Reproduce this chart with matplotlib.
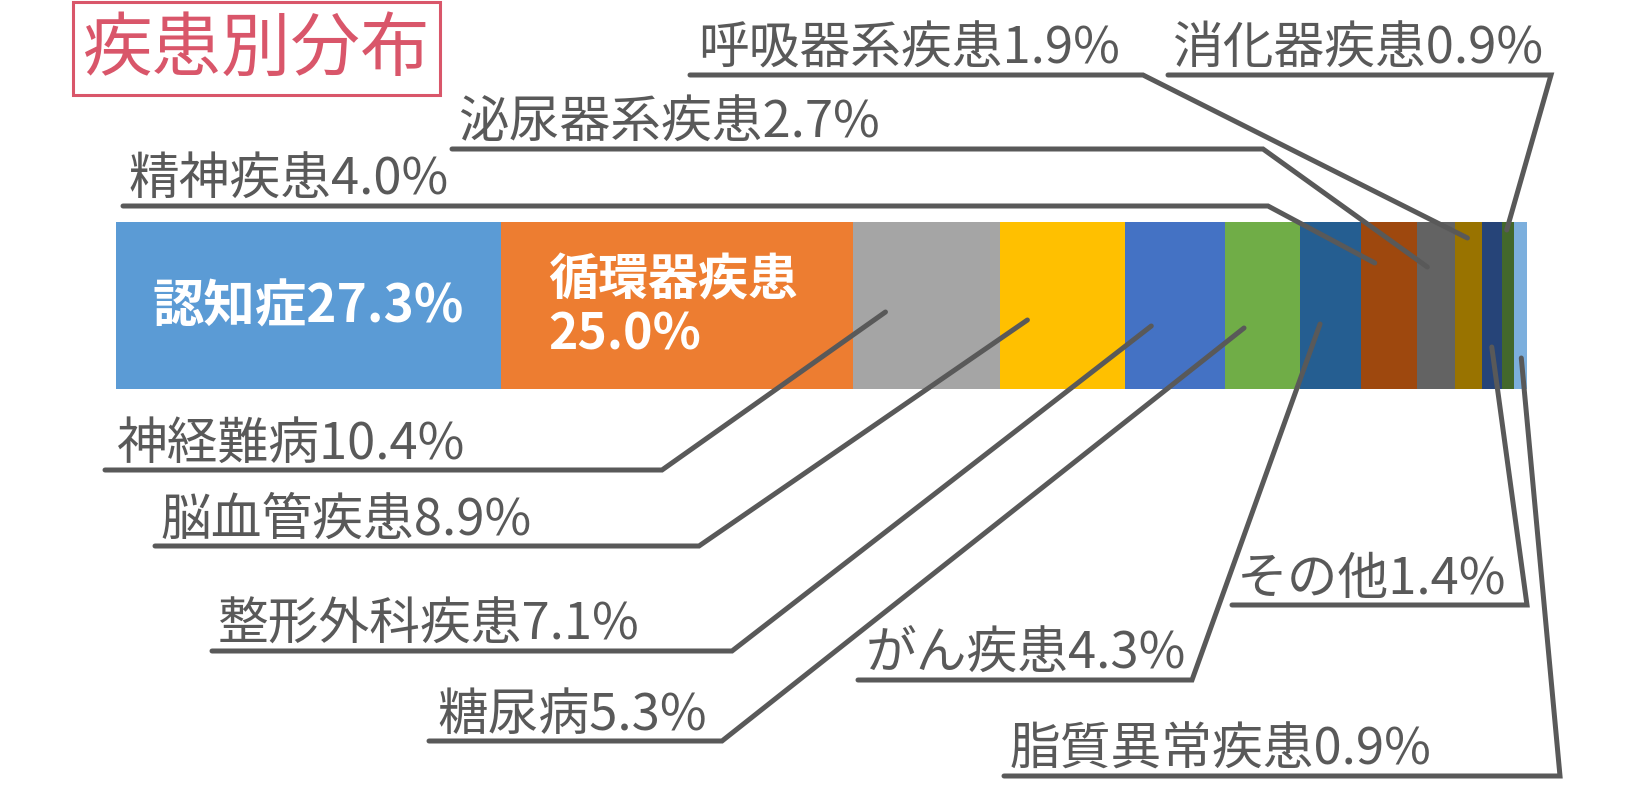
import matplotlib
matplotlib.use("Agg")
import numpy as np
import matplotlib.pyplot as plt
from matplotlib.patches import Rectangle

plt.rcParams['font.family'] = ['Noto Sans CJK JP', 'DejaVu Sans']

title = '疾患別分布'
categories = ['認知症', '循環器疾患', '神経難病', '脳血管疾患', '整形外科疾患', '糖尿病', 'がん疾患',
              '精神疾患', '泌尿器系疾患', '呼吸器系疾患', 'その他', '消化器疾患', '脂質異常疾患']
values = [27.3, 25.0, 10.4, 8.9, 7.1, 5.3, 4.3, 4.0, 2.7, 1.9, 1.4, 0.9, 0.9]
colors = ['#5B9BD5', '#ED7D31', '#A5A5A5', '#FFC000', '#4472C4', '#70AD47', '#255E91',
          '#9E480E', '#636363', '#997300', '#264478', '#43682B', '#7CAFDD']

# leader layout, figure pixels from top-left:
# text x, underline y, underline x0, elbow x, anchor position inside segment, anchor y
leaders = {
    '神経難病':     (116, 470, 105, 662, 0.22, 312),
    '脳血管疾患':   (160, 546, 155, 699, 0.22, 320),
    '整形外科疾患': (218, 651, 212, 732, 0.26, 326),
    '糖尿病':       (437, 741, 429, 722, 0.25, 328),
    'がん疾患':     (866, 680, 858, 1192, 0.33, 324),
    'その他':       (1237, 605, 1232, 1527, 0.50, 347),
    '脂質異常疾患': (1010, 776, 1004, 1560, 0.55, 358),
    '精神疾患':     (129, 206, 123, 1268, 0.25, 263),
    '泌尿器系疾患': (458, 149, 452, 1263, 0.27, 267),
    '呼吸器系疾患': (698, 75, 690, 1143, 0.46, 238),
    '消化器疾患':   (1172, 75, 1168, 1551, 0.40, 230),
}

W, H = 1640, 800
bar_left, bar_right = 116, 1527
total = sum(values)
line_color = '#595959'

fig = plt.figure(figsize=(W / 100, H / 100), dpi=100)
ax = fig.add_axes([bar_left / W, 0, (bar_right - bar_left) / W, 1])
ax.set_xlim(0, total)
ax.set_ylim(H, 0)
ax.axis('off')


def X(px):
    # pixel x -> data x
    return (px - bar_left) / (bar_right - bar_left) * total


starts = np.concatenate([[0], np.cumsum(values)[:-1]])
ax.barh(305.5, values, left=starts, height=167, color=colors, edgecolor='none')

# labels inside the two biggest segments
ax.text(starts[0] + values[0] / 2, 307, f'{categories[0]}{values[0]}%', color='white',
        fontsize=37, fontweight='bold', ha='center', va='center')
ax.text(X(548), 308, f'{categories[1]}\n{values[1]:.1f}%', color='white',
        fontsize=36, fontweight='bold', ha='left', va='center', linespacing=1.1)

for cat, (tx, uy, x0, x1, frac, ay) in leaders.items():
    i = categories.index(cat)
    anchor = starts[i] + frac * values[i]
    ax.plot([X(x0), X(x1), anchor], [uy, uy, ay], color=line_color, lw=3.6,
            solid_capstyle='round', solid_joinstyle='miter', clip_on=False)
    ax.text(X(tx), uy - 11, f'{cat}{values[i]:.1f}%', color=line_color, fontsize=36.5,
            ha='left', va='baseline', clip_on=False)

# title box
ax.add_patch(Rectangle((X(73), 2), X(440) - X(73), 93, fill=False, edgecolor='#D9566A',
                       lw=2.2, clip_on=False))
ax.text(X(83), 50, title, color='#D9566A', fontsize=50, ha='left', va='center', clip_on=False)

fig.savefig('out.png', dpi=100)
